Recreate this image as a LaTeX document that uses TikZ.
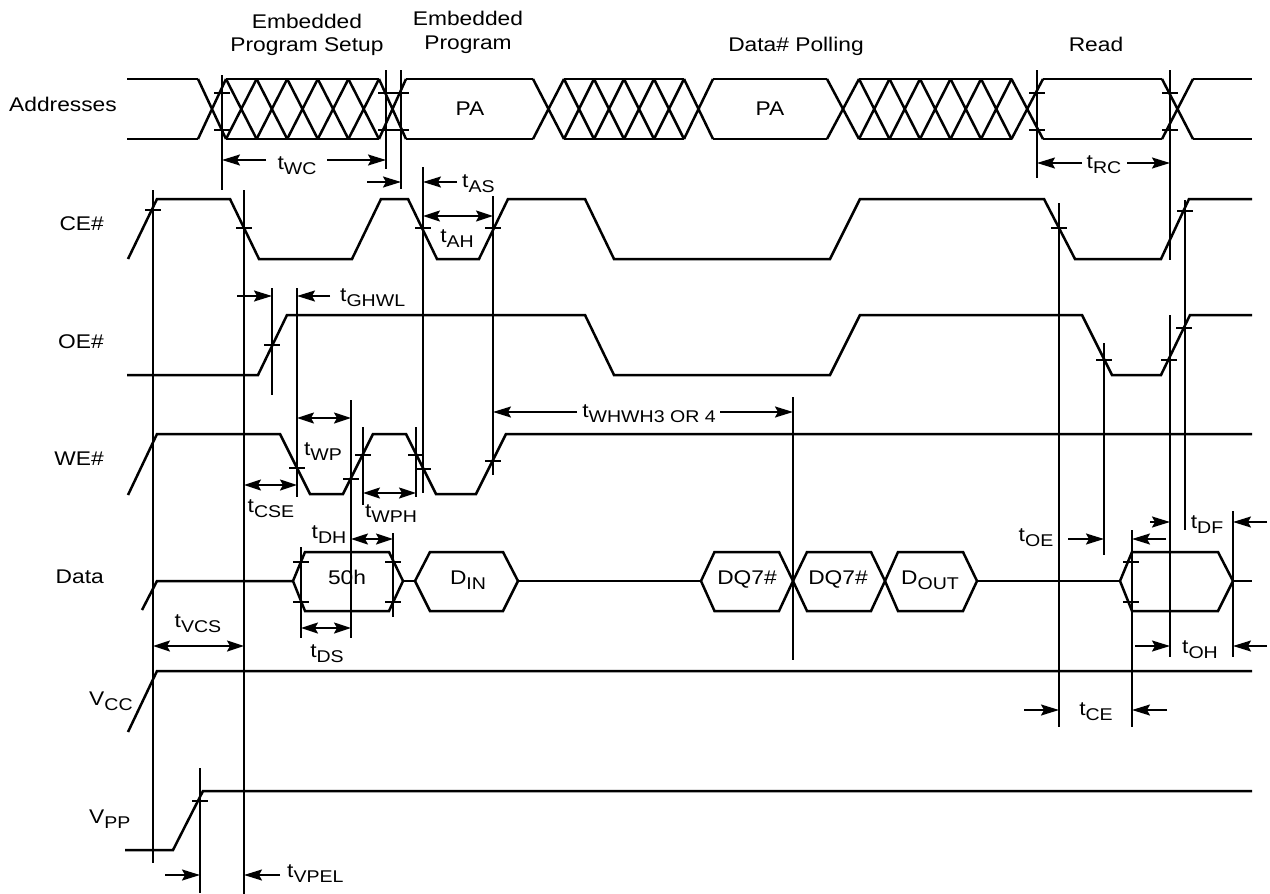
\documentclass[tikz,border=0pt]{standalone}
\usepackage{fontspec}
\setmainfont{Liberation Sans}[FakeStretch=1.15]
\usetikzlibrary{arrows.meta}
\newcommand\fmain{\fontsize{19.8}{22}\selectfont}
\newcommand\mysub[1]{\raisebox{-5pt}{\fontsize{17}{19}\selectfont #1}}
\newcommand\tk[2]{\draw[vl] ({#1-8},#2) -- ({#1+8},#2);}
\begin{document}
\begin{tikzpicture}[x=1pt,y=-1pt,
  sig/.style={line width=2.5pt},
  vl/.style={line width=1.8pt},
  dimr/.style={line width=1.8pt,-{Stealth[length=18pt,width=11pt,inset=3pt]}},
  dimb/.style={line width=1.8pt,{Stealth[length=17pt,width=11pt,inset=3pt]}-{Stealth[length=17pt,width=11pt,inset=3pt]}},
  lbl/.style={inner sep=0pt,font=\fmain},
]
\useasboundingbox[fill=white] (0,0) rectangle (1270,894);

% ---------- signal names ----------
\node[lbl,anchor=mid east] (addr) at (117,109) {Addresses};
\node[lbl,anchor=mid east] (ce) at (104,228) {CE\#};
\node[lbl,anchor=mid east] (oe) at (104,346) {OE\#};
\node[lbl,anchor=mid east] (we) at (104,463) {WE\#};
\node[lbl,anchor=mid east] (data) at (104,581) {Data};
\node[lbl,anchor=base west] (vcc) at (89,705) {V\mysub{CC}};
\node[lbl,anchor=base west] (vpp) at (89,823) {V\mysub{PP}};

% ---------- phase headings ----------
\node[lbl,anchor=base] (h1a) at (307,28) {Embedded};
\node[lbl,anchor=base] (h1b) at (307,51) {Program Setup};
\node[lbl,anchor=base] (h2a) at (468,25) {Embedded};
\node[lbl,anchor=base] (h2b) at (468,49) {Program};
\node[lbl,anchor=base] (h3) at (796,51) {Data\# Polling};
\node[lbl,anchor=base] (h4) at (1096,51) {Read};

% ---------- Addresses ----------
\foreach \a/\b in {127/198,226/379,406/533,564/684,713/827,859/1011.5,1043/1162,1193/1252}
  {\draw[sig] (\a,79) -- (\b,79) (\a,139) -- (\b,139);}
\foreach \a/\b in {198/226,226/256.6,256.6/287.2,287.2/317.8,317.8/348.4,348.4/379,379/406,
                   533/564,564/594,594/624,624/654,654/684,684/713,
                   827/859,859/889.5,889.5/920,920/950.5,950.5/981,981/1011.5,1011.5/1043,1162/1193}
  {\draw[sig] (\a,79) -- (\b,139) (\a,139) -- (\b,79);}
\node[lbl,anchor=base] (pa1) at (470,115) {PA};
\node[lbl,anchor=base] (pa2) at (770,115) {PA};

% ---------- CE# ----------
\draw[sig] (128,259) -- (157,199) -- (230,199) -- (259,259) -- (352,259) -- (381,199) -- (408,199)
  -- (437,259) -- (479,259) -- (508,199) -- (585,199) -- (614,259) -- (830,259) -- (860,199)
  -- (1044,199) -- (1075,259) -- (1161,259) -- (1189,199) -- (1252,199);

% ---------- OE# ----------
\draw[sig] (127,375) -- (258,375) -- (287,315) -- (585,315) -- (614,375) -- (830,375) -- (860,315)
  -- (1082,315) -- (1112,375) -- (1161,375) -- (1190,315) -- (1252,315);

% ---------- WE# ----------
\draw[sig] (128,495) -- (157,434) -- (280,434) -- (310,494) -- (343,494) -- (373,434) -- (406,434)
  -- (436,494) -- (476,494) -- (506,434) -- (1252,434);

% ---------- Data ----------
\draw[sig] (142,610) -- (157,581) -- (293,581);
\draw[sig] (293,581) -- (305,552) -- (389,552) -- (403,581) -- (389,611) -- (305,611) -- cycle;
\draw[sig] (403,581) -- (415,581);
\draw[sig] (415,581) -- (430,552) -- (503,552) -- (518,581) -- (503,611) -- (430,611) -- cycle;
\draw[sig] (518,581) -- (701,581);
\draw[sig] (701,581) -- (714.5,552) -- (779,552) -- (793,581) -- (779,611) -- (714.5,611) -- cycle;
\draw[sig] (793,581) -- (807,552) -- (871,552) -- (885,581) -- (871,611) -- (807,611) -- cycle;
\draw[sig] (885,581) -- (898,552) -- (963,552) -- (977,581) -- (963,611) -- (898,611) -- cycle;
\draw[sig] (977,581) -- (1120,581);
\draw[sig] (1120,581) -- (1132,552) -- (1218,552) -- (1233,581) -- (1218,611) -- (1132,611) -- cycle;
\draw[sig] (1233,581) -- (1252,581);
\node[lbl,anchor=base] (d50) at (347,584) {50h};
\node[lbl,anchor=base] (din) at (468,584) {D\mysub{IN}};
\node[lbl,anchor=base] (dq1) at (747,584) {DQ7\#};
\node[lbl,anchor=base] (dq2) at (838,584) {DQ7\#};
\node[lbl,anchor=base] (dout) at (930,584) {D\mysub{OUT}};

% ---------- VCC / VPP ----------
\draw[sig] (128,732) -- (157,671) -- (1252,671);
\draw[sig] (125,850) -- (173,850) -- (203,791) -- (1252,791);

% ---------- reference lines ----------
\foreach \x/\ya/\yb in {222/75/190, 386/70/169, 401/70/189, 1037/70/178, 1170/70/260,
   153/190/863, 244/190/894, 423/167/493, 493/196/475, 1059/203/727, 1185/200/530,
   272/288/395, 297/288/497, 1104/343/555, 1170/315/657, 351/400/638, 363/427/505,
   416/427/497, 793/397/660, 301/547/638, 393/533/617, 1132/530/727, 1233/511/657, 200/768/893}
  {\draw[vl] (\x,\ya) -- (\x,\yb);}

% ---------- ticks ----------
\tk{222}{93}\tk{222}{130}\tk{386}{93}\tk{386}{130}\tk{401}{93}\tk{401}{130}
\tk{1037}{93}\tk{1037}{130}\tk{1170}{93}\tk{1170}{130}
\tk{153}{210}\tk{244}{228}\tk{423}{228}\tk{493}{228}\tk{1059}{228}\tk{1185}{211}
\tk{272}{345}\tk{1104}{360}\tk{1169}{360}\tk{1184}{328}
\tk{297}{468}\tk{351}{479}\tk{363}{455}\tk{416}{455}\tk{423}{469}\tk{493}{461}
\tk{301}{562}\tk{301}{602}\tk{393}{562}\tk{393}{602}\tk{1131}{562}\tk{1131}{602}
\tk{200}{801}

% ---------- timing dimensions ----------
\draw[dimr] (266,160) -- (222,160);  \draw[dimr] (327,160) -- (386,160);
\node[lbl,anchor=base] (twc) at (297,169) {t\mysub{WC}};
\draw[dimr] (1082,163) -- (1037,163); \draw[dimr] (1127,163) -- (1170,163);
\node[lbl,anchor=base] (trc) at (1104,168) {t\mysub{RC}};
\draw[dimr] (367,182) -- (401,182);  \draw[dimr] (457,182) -- (423,182);
\node[lbl,anchor=base west] (tas) at (462,187) {t\mysub{AS}};
\draw[dimb] (423,216) -- (493,216);
\node[lbl,anchor=base] (tah) at (457,242) {t\mysub{AH}};
\draw[dimr] (237,296) -- (272,296);  \draw[dimr] (330,296) -- (297,296);
\node[lbl,anchor=base west] (tghwl) at (340,301) {t\mysub{GHWL}};
\draw[dimr] (577,412) -- (493,412);  \draw[dimr] (720,412) -- (793,412);
\node[lbl,anchor=base] (twhwh) at (649,417) {t\mysub{WHWH3 OR 4}};
\draw[dimb] (297,418) -- (351,418);
\node[lbl,anchor=base] (twp) at (323,455) {t\mysub{WP}};
\draw[dimb] (244,485) -- (297,485);
\node[lbl,anchor=base] (tcse) at (271,512) {t\mysub{CSE}};
\draw[dimb] (363,493) -- (416,493);
\node[lbl,anchor=base] (twph) at (391,517) {t\mysub{WPH}};
\draw[dimb] (351,539) -- (393,539);
\node[lbl,anchor=base] (tdh) at (329,538) {t\mysub{DH}};
\draw[dimb] (301,628) -- (351,628);
\node[lbl,anchor=base] (tds) at (327,657) {t\mysub{DS}};
\draw[dimb] (153,646) -- (244,646);
\node[lbl,anchor=base] (tvcs) at (198,627) {t\mysub{VCS}};
\draw[dimr] (1068,539) -- (1104,539); \draw[dimr] (1166,539) -- (1132,539);
\node[lbl,anchor=base] (toe) at (1036,541) {t\mysub{OE}};
\draw[dimr] (1150,522) -- (1170,522); \draw[dimr] (1267,522) -- (1233,522);
\node[lbl,anchor=base] (tdf) at (1207,528) {t\mysub{DF}};
\draw[dimr] (1135,646) -- (1170,646); \draw[dimr] (1267,646) -- (1233,646);
\node[lbl,anchor=base] (toh) at (1200,653) {t\mysub{OH}};
\draw[dimr] (1024,710) -- (1059,710); \draw[dimr] (1167,710) -- (1132,710);
\node[lbl,anchor=base] (tce) at (1096,715) {t\mysub{CE}};
\draw[dimr] (165,875) -- (200,875);  \draw[dimr] (280,875) -- (244,875);
\node[lbl,anchor=base west] (tvpel) at (287,877) {t\mysub{VPEL}};
\end{tikzpicture}
\end{document}
